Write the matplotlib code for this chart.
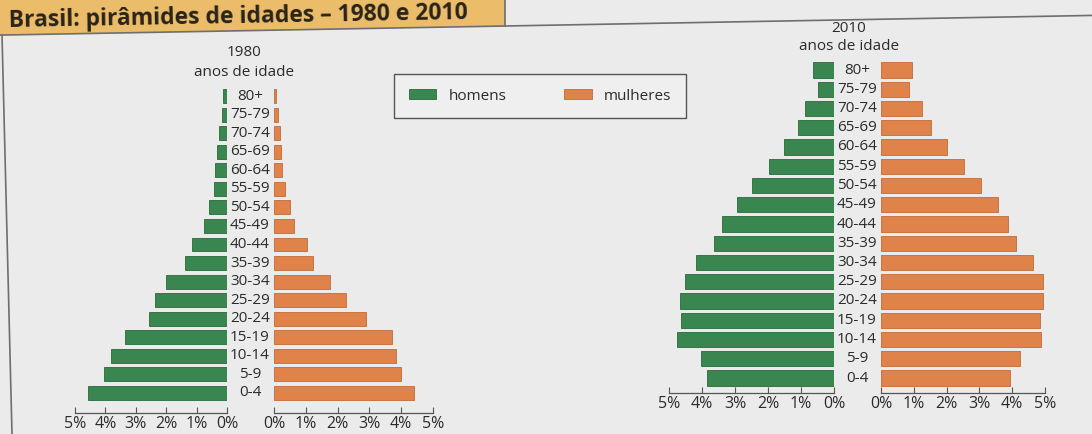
import matplotlib
matplotlib.use("Agg")
import matplotlib.pyplot as plt
from matplotlib.patches import Polygon, Patch
from matplotlib.lines import Line2D

ages = ["0-4", "5-9", "10-14", "15-19", "20-24", "25-29", "30-34", "35-39",
        "40-44", "45-49", "50-54", "55-59", "60-64", "65-69", "70-74", "75-79", "80+"]
men_1980 = [4.58, 4.05, 3.83, 3.37, 2.58, 2.38, 2.0, 1.37, 1.15, 0.75, 0.6, 0.43,
            0.38, 0.32, 0.25, 0.17, 0.14]
women_1980 = [4.4, 4.0, 3.83, 3.7, 2.9, 2.25, 1.77, 1.22, 1.05, 0.63, 0.5, 0.35,
              0.25, 0.23, 0.18, 0.12, 0.07]
men_2010 = [3.85, 4.02, 4.76, 4.64, 4.68, 4.52, 4.19, 3.64, 3.38, 2.94, 2.47, 1.98,
            1.53, 1.1, 0.87, 0.5, 0.64]
women_2010 = [3.92, 4.25, 4.88, 4.85, 4.95, 4.94, 4.62, 4.12, 3.86, 3.56, 3.04, 2.52,
              2.01, 1.51, 1.24, 0.85, 0.95]
xticks = [0, 1, 2, 3, 4, 5]
xticklabels = ["0%", "1%", "2%", "3%", "4%", "5%"]
title = "Brasil: pirâmides de idades – 1980 e 2010"
legend_labels = ["homens", "mulheres"]

plt.rcParams['font.family'] = ['Open Sans', 'DejaVu Sans']

W, H = 1092, 434
BG = "#ebebeb"
GREEN = "#3a8650"
GREEN_E = "#2a6a3c"
ORANGE = "#e0834b"
ORANGE_E = "#c46a36"
TXT = "#2b2b2b"
AX = "#555555"
FS = 11

fig = plt.figure(figsize=(W / 100, H / 100), dpi=100, facecolor=BG)


def fx(x):
    return x / W


def fy(y):
    return 1 - y / H


def px_axes(x0, x1, y_top, y_bot):
    return fig.add_axes([x0 / W, 1 - y_bot / H, (x1 - x0) / W, (y_bot - y_top) / H])


def style(ax, ylo, male):
    ax.set_facecolor("none")
    for s in ["top", "left", "right"]:
        ax.spines[s].set_visible(False)
    ax.spines["bottom"].set_color(AX)
    ax.spines["bottom"].set_linewidth(0.9)
    ax.set_yticks([])
    ax.set_ylim(ylo, 16.5)
    ax.set_xticks(xticks)
    ax.set_xticklabels(xticklabels, fontsize=11.5, color=TXT)
    ax.tick_params(axis="x", direction="in", length=4, color=AX, pad=2)
    if male:
        ax.set_xlim(5, 0)
    else:
        ax.set_xlim(0, 5)


def pyramid(men, women, mx0, mx1, fx0, fx1, y_first, y_last, y_axis, label_x, bh):
    step = (y_last - y_first) / 16.0
    y_top = y_first - step / 2
    ylo = (y_last - y_axis) / step
    y_bot = y_axis
    axm = px_axes(mx0, mx1, y_top, y_bot)
    axf = px_axes(fx0, fx1, y_top, y_bot)
    pos = list(range(len(ages)))
    axm.barh(pos, men, height=bh, color=GREEN, edgecolor=GREEN_E, linewidth=0.6)
    axf.barh(pos, women, height=bh, color=ORANGE, edgecolor=ORANGE_E, linewidth=0.6)
    style(axm, ylo, True)
    style(axf, ylo, False)
    for i, a in enumerate(ages):
        yc = y_last - i * step
        fig.text(fx(label_x), fy(yc), a, ha="center", va="center",
                 fontsize=FS, color=TXT)
    return axm, axf


axm1, axf1 = pyramid(men_1980, women_1980, 75, 227, 274, 433,
                     96, 393, 413, 250, 0.75)
axm2, axf2 = pyramid(men_2010, women_2010, 669, 834, 881, 1045,
                     70, 378, 393, 857, 0.8)

fig.text(fx(244), fy(52), "1980", ha="center", va="center", fontsize=FS, color=TXT)
fig.text(fx(244), fy(73), "anos de idade", ha="center", va="center", fontsize=FS, color=TXT)
fig.text(fx(849), fy(28), "2010", ha="center", va="center", fontsize=FS, color=TXT)
fig.text(fx(849), fy(47), "anos de idade", ha="center", va="center", fontsize=FS, color=TXT)

# panel frame and (slightly tilted, as in the photo) title box
slope = 0.018
fig.add_artist(Line2D([fx(505), fx(1092)], [fy(26), fy(26 - 587 * slope)],
                      color="#6e6e6e", lw=1.2, transform=fig.transFigure))
fig.add_artist(Line2D([fx(2), fx(12)], [fy(35), fy(434)], color="#6e6e6e", lw=1.2,
                      transform=fig.transFigure))
box = Polygon([(fx(-3), fy(-5)), (fx(505), fy(-5)), (fx(505), fy(26)),
               (fx(-3), fy(26 + 508 * slope))],
              closed=True, transform=fig.transFigure, facecolor="#ebbd6a",
              edgecolor="#6e6e6e", lw=1.2)
fig.add_artist(box)
fig.text(fx(9), fy(27), title, ha="left", va="baseline", fontsize=16.5,
         fontweight="bold", color="#2a2318", rotation=1.0, rotation_mode="anchor")

handles = [Patch(facecolor=GREEN, edgecolor=GREEN_E, lw=0.6),
           Patch(facecolor=ORANGE, edgecolor=ORANGE_E, lw=0.6)]
leg = fig.legend(handles, legend_labels, ncol=2, loc="center",
                 bbox_to_anchor=(fx(540), fy(96)), fontsize=11,
                 handlelength=1.8, handleheight=0.6, handletextpad=0.8,
                 columnspacing=3.8, borderpad=0.95, fancybox=False,
                 edgecolor="#555555", facecolor="#efefef", framealpha=1)
leg.get_frame().set_linewidth(1.0)
for t in leg.get_texts():
    t.set_color(TXT)

fig.savefig("out.png", dpi=100, facecolor=BG)
